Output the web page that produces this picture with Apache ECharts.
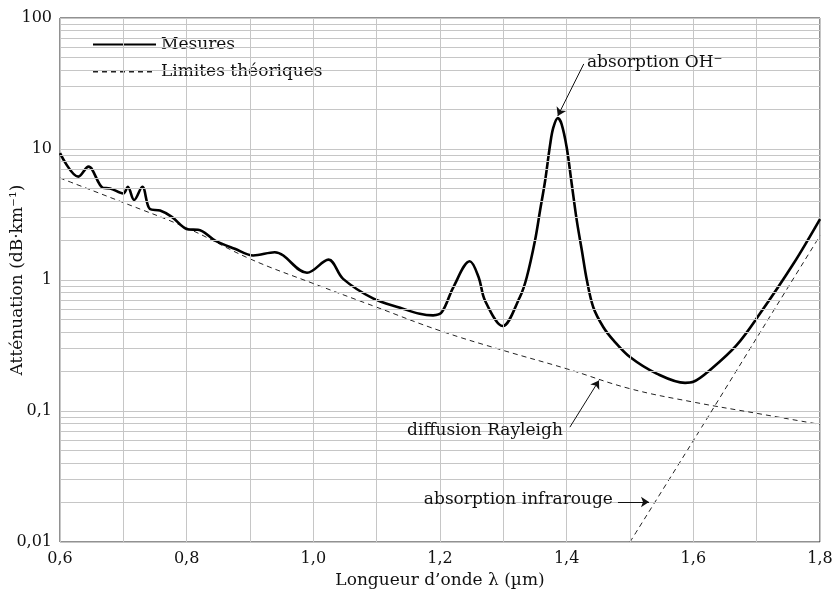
<!DOCTYPE html>
<html>
<head>
<meta charset="utf-8">
<script src="https://cdn.jsdelivr.net/npm/echarts@6/dist/echarts.min.js"></script>
<style>
  html, body { margin: 0; padding: 0; background: #fff; }
  #chart { width: 834px; height: 595px; }
</style>
</head>
<body>
<div id="chart"></div>
<script>
// longueur d'onde (µm) / atténuation (dB/km)
var mesures = [
    [0.600, 9.3], [0.629, 6.15], [0.645, 7.33], [0.668, 5.05], [0.679, 5.0],
    [0.700, 4.58], [0.707, 5.15], [0.717, 4.08], [0.730, 5.15], [0.742, 3.48],
    [0.758, 3.39], [0.776, 3.05], [0.803, 2.43], [0.818, 2.42], [0.845, 2.0],
    [0.876, 1.73], [0.905, 1.54], [0.939, 1.63], [0.990, 1.135], [1.024, 1.43],
    [1.047, 1.02], [1.095, 0.72], [1.137, 0.614], [1.168, 0.552], [1.189, 0.537],
    [1.203, 0.569], [1.221, 0.88], [1.247, 1.39], [1.261, 1.05], [1.271, 0.698],
    [1.299, 0.445], [1.326, 0.739], [1.337, 1.05], [1.350, 2.0], [1.358, 3.39],
    [1.366, 5.73], [1.374, 10.9], [1.379, 14.6], [1.386, 17.2], [1.392, 15.5],
    [1.400, 10.3], [1.408, 5.41], [1.416, 2.84], [1.424, 1.68], [1.432, 0.99],
    [1.442, 0.62], [1.458, 0.436], [1.474, 0.346], [1.500, 0.258],
    [1.542, 0.193], [1.587, 0.164], [1.600, 0.167], [1.626, 0.205], [1.668, 0.317],
    [1.705, 0.552], [1.758, 1.33], [1.800, 2.92]
];
var rayleigh = [
    [0.6, 6.0], [0.7, 3.9], [0.8, 2.5], [0.9, 1.45], [1.0, 0.94], [1.1, 0.62],
    [1.2, 0.41], [1.3, 0.29], [1.4, 0.21], [1.5, 0.148], [1.6, 0.117],
    [1.7, 0.096], [1.8, 0.079]
];
var infrarouge = [[1.5, 0.01], [1.6, 0.0594], [1.7, 0.361], [1.8, 2.18]];
// grille : lignes verticales tous les 0,1 et lignes 2..9 de chaque décade
var xLines = [0.7, 0.9, 1.1, 1.3, 1.5, 1.7];
var yLines = [0.02, 0.03, 0.04, 0.05, 0.06, 0.07, 0.08, 0.09,
    0.2, 0.3, 0.4, 0.5, 0.6, 0.7, 0.8, 0.9,
    2, 3, 4, 5, 6, 7, 8, 9, 20, 30, 40, 50, 60, 70, 80, 90];
// annotations : texte, point d'ancrage, début et fin de la flèche
var notes = [
    { text: 'absorption OH\u207B', at: [1.432, 45.4], side: 'right', from: [1.427, 44.6], to: [1.386, 17.9] },
    { text: 'diffusion Rayleigh', at: [1.394, 0.0713], side: 'left', from: [1.405, 0.0752], to: [1.451, 0.171] },
    { text: 'absorption infrarouge', at: [1.473, 0.0209], side: 'left', from: [1.481, 0.0202], to: [1.530, 0.0202] }
];

var serif = 'DejaVu Serif';
var fs = 16;
var fsText = 17;
var ink = '#111';
var gridGray = '#c6c6c6';
var myChart = echarts.init(document.getElementById('chart'));

var gridLines = xLines.map(function (v) { return { xAxis: v }; })
    .concat(yLines.map(function (v) { return { yAxis: v }; }));

var option = {
    animation: false,
    textStyle: { fontFamily: serif },
    grid: {
        left: 60, right: 14, top: 18, bottom: 53,
        outerBoundsMode: 'none',
        containLabel: false,
        show: true, borderColor: '#222', borderWidth: 1
    },
    legend: {
        orient: 'vertical',
        left: 92, top: 36, padding: 0,
        itemWidth: 63, itemHeight: 14, itemGap: 10,
        data: ['Mesures', 'Limites th\u00e9oriques'],
        itemStyle: { opacity: 0 },
        textStyle: { fontFamily: serif, fontSize: fsText, color: ink }
    },
    xAxis: {
        type: 'value',
        min: 0.6, max: 1.8, interval: 0.2,
        name: 'Longueur d\u2019onde \u03BB (\u00B5m)',
        nameLocation: 'middle', nameGap: 29,
        nameTextStyle: { fontFamily: serif, fontSize: fsText, color: ink },
        axisLine: { show: false },
        axisTick: { show: false },
        axisLabel: {
            fontFamily: serif, fontSize: fs, color: ink, margin: 9,
            formatter: function (v) { return v.toFixed(1).replace('.', ','); }
        },
        splitLine: { lineStyle: { color: gridGray, width: 1 } },
        minorSplitLine: { show: false }
    },
    yAxis: {
        type: 'log', logBase: 10,
        min: 0.01, max: 100,
        name: 'Att\u00e9nuation (dB\u00B7km\u207B\u00B9)',
        nameLocation: 'middle', nameGap: 34, nameRotate: 90,
        nameMoveOverlap: false,
        nameTextStyle: { fontFamily: serif, fontSize: fsText, color: ink },
        axisLine: { show: false },
        axisTick: { show: false },
        axisLabel: {
            fontFamily: serif, fontSize: fs, color: ink, margin: 8,
            formatter: function (v) { return String(v).replace('.', ','); }
        },
        splitLine: { lineStyle: { color: gridGray, width: 1 } },
        minorSplitLine: { show: false }
    },
    series: [{
        name: 'grille',
        type: 'line',
        data: [],
        z: 1,
        silent: true,
        markLine: {
            silent: true,
            symbol: 'none',
            label: { show: false },
            lineStyle: { color: gridGray, type: 'solid', width: 1 },
            data: gridLines
        }
    }, {
        name: 'Limites th\u00e9oriques',
        type: 'line',
        data: rayleigh,
        smooth: 0.4,
        symbol: 'none',
        z: 3,
        itemStyle: { color: '#222' },
        lineStyle: { color: '#222', width: 1, type: [5, 4] }
    }, {
        name: 'Limites th\u00e9oriques',
        type: 'line',
        data: infrarouge,
        smooth: 0.3,
        symbol: 'none',
        z: 3,
        itemStyle: { color: '#222' },
        lineStyle: { color: '#222', width: 1, type: [5, 4] }
    }, {
        name: 'Mesures',
        type: 'line',
        data: mesures,
        smooth: 0.35,
        symbol: 'none',
        z: 4,
        itemStyle: { color: '#000' },
        lineStyle: { color: '#000', width: 2.6 }
    }, {
        name: 'notes',
        type: 'scatter',
        symbolSize: 0,
        z: 5,
        silent: true,
        itemStyle: { opacity: 1, color: ink },
        data: notes.map(function (n) {
            return {
                value: n.at,
                label: {
                    show: true, position: n.side, distance: 0,
                    formatter: n.text,
                    fontFamily: serif, fontSize: fsText, color: ink
                }
            };
        }),
        markLine: {
            silent: true,
            symbol: ['none', 'arrow'],
            symbolSize: 8,
            label: { show: false },
            lineStyle: { color: ink, type: 'solid', width: 1, opacity: 1 },
            itemStyle: { color: ink },
            data: notes.map(function (n) {
                return [{ coord: n.from }, { coord: n.to }];
            })
        }
    }]
};

myChart.setOption(option);
</script>
</body>
</html>
